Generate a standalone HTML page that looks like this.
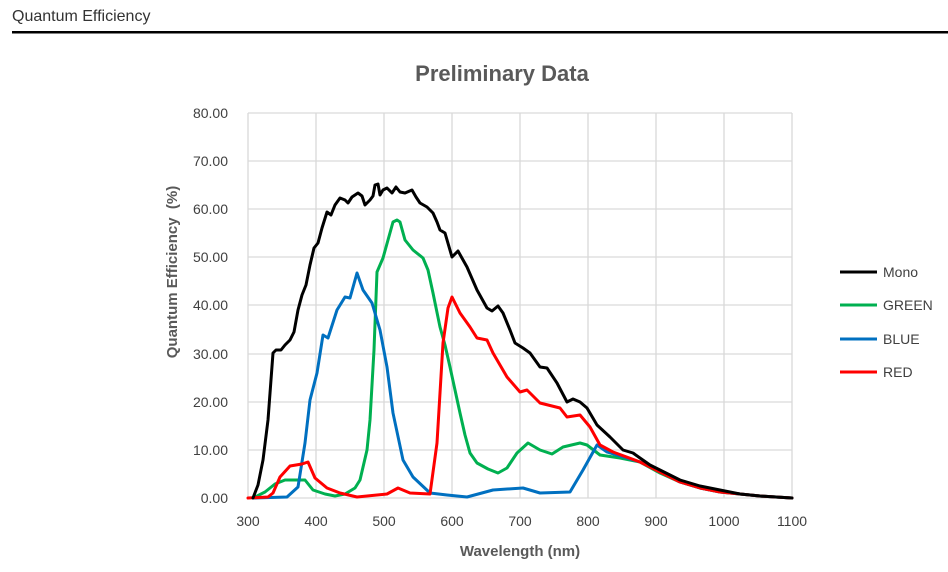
<!DOCTYPE html>
<html><head><meta charset="utf-8"><style>
html,body{margin:0;padding:0;background:#fff;}
svg{display:block;}
</style></head><body>
<svg width="948" height="572" viewBox="0 0 948 572" xmlns="http://www.w3.org/2000/svg" font-family="Liberation Sans, sans-serif">
<text x="12" y="21" font-size="16" fill="#333">Quantum Efficiency</text>
<rect x="12" y="31" width="936" height="2.5" fill="#000"/>
<text x="502" y="81" font-size="22" font-weight="bold" fill="#595959" text-anchor="middle">Preliminary Data</text>
<g stroke="#d9d9d9" stroke-width="1.3" fill="none">
<line x1="248" y1="113" x2="792" y2="113"/><line x1="248" y1="161" x2="792" y2="161"/><line x1="248" y1="209" x2="792" y2="209"/><line x1="248" y1="257" x2="792" y2="257"/><line x1="248" y1="305" x2="792" y2="305"/><line x1="248" y1="354" x2="792" y2="354"/><line x1="248" y1="402" x2="792" y2="402"/><line x1="248" y1="450" x2="792" y2="450"/><line x1="248" y1="498" x2="792" y2="498"/>
<line x1="248" y1="113" x2="248" y2="498"/><line x1="316" y1="113" x2="316" y2="498"/><line x1="384" y1="113" x2="384" y2="498"/><line x1="452" y1="113" x2="452" y2="498"/><line x1="520" y1="113" x2="520" y2="498"/><line x1="588" y1="113" x2="588" y2="498"/><line x1="656" y1="113" x2="656" y2="498"/><line x1="724" y1="113" x2="724" y2="498"/><line x1="792" y1="113" x2="792" y2="498"/>
</g>
<g font-size="14" fill="#404040" text-anchor="end">
<text x="228" y="118">80.00</text><text x="228" y="166">70.00</text><text x="228" y="214">60.00</text><text x="228" y="262">50.00</text><text x="228" y="310">40.00</text><text x="228" y="359">30.00</text><text x="228" y="407">20.00</text><text x="228" y="455">10.00</text><text x="228" y="503">0.00</text>
</g>
<g font-size="14" fill="#404040" text-anchor="middle">
<text x="248" y="526">300</text><text x="316" y="526">400</text><text x="384" y="526">500</text><text x="452" y="526">600</text><text x="520" y="526">700</text><text x="588" y="526">800</text><text x="656" y="526">900</text><text x="724" y="526">1000</text><text x="792" y="526">1100</text>
</g>
<text x="520" y="556" font-size="15" font-weight="bold" fill="#595959" text-anchor="middle">Wavelength (nm)</text>
<text transform="translate(177,272) rotate(-90)" font-size="15" font-weight="bold" fill="#595959" text-anchor="middle">Quantum Efficiency&#160; (%)</text>
<g fill="none" stroke-width="3" stroke-linejoin="round" stroke-linecap="round">
<polyline stroke="#00b050" points="253,498 265,492 275,484 285,480 305,480 313,490 325,494 335,496 345,494 355,488 360,480 367,450 370,420 374,350 377,272 383,258 388,240 393,222 397,220 400,222 405,240 413,250 423,258 428,270 433,293 440,327 445,345 450,367 455,390 460,413 465,435 470,453 477,463 488,469 498,473 507,468 517,453 528,443 540,450 552,454 563,447 580,443 587,445 600,455 620,458 640,462 660,473 680,482 700,488 720,492 760,496 792,498"/>
<polyline stroke="#0070c0" points="253,498 287,497 298,487 305,443 310,400 317,373 323,335 328,338 337,310 345,297 350,298 357,273 363,290 372,303 380,330 387,367 393,413 403,460 413,477 430,493 447,495 467,497 493,490 523,488 540,493 570,492 583,470 597,445 607,452 640,462 660,471 680,482 700,488 720,492 760,496 792,498"/>
<polyline stroke="#ff0000" points="248,498 268,497 273,493 280,477 290,466 302,464 308,462 315,478 327,488 340,493 357,497 387,494 398,488 410,493 430,494 437,443 443,343 448,308 452,297 456,305 460,313 470,327 477,338 487,340 493,353 507,377 520,392 527,390 540,403 560,408 567,417 580,415 590,427 600,445 613,452 640,462 660,472 680,482 700,488 720,492 760,496 792,498"/>
<polyline stroke="#000" points="253,498 258,485 263,460 268,420 273,353 276,350 281,350 285,345 290,340 294,332 298,310 302,295 306,285 310,265 314,248 318,243 322,228 327,212 331,215 335,205 340,198 345,200 348,203 352,197 358,193 362,196 365,205 370,200 373,196 375,185 378,184 380,195 383,190 387,188 392,193 396,187 400,192 405,193 412,190 416,197 420,203 427,207 433,213 437,222 440,230 445,233 452,257 458,251 467,267 477,290 487,308 492,311 498,306 503,313 510,330 515,343 523,348 530,353 540,367 547,368 557,383 567,402 573,399 580,402 587,408 597,425 610,437 623,450 633,453 640,458 650,465 660,470 680,480 700,486 720,490 740,494 760,496 792,498"/>
</g>
<g stroke-width="3">
<line x1="840" y1="272" x2="877" y2="272" stroke="#000"/>
<line x1="840" y1="305" x2="877" y2="305" stroke="#00b050"/>
<line x1="840" y1="339" x2="877" y2="339" stroke="#0070c0"/>
<line x1="840" y1="372" x2="877" y2="372" stroke="#ff0000"/>
</g>
<g font-size="14" fill="#404040">
<text x="883" y="277">Mono</text><text x="883" y="310">GREEN</text><text x="883" y="344">BLUE</text><text x="883" y="377">RED</text>
</g>
</svg>
</body></html>
